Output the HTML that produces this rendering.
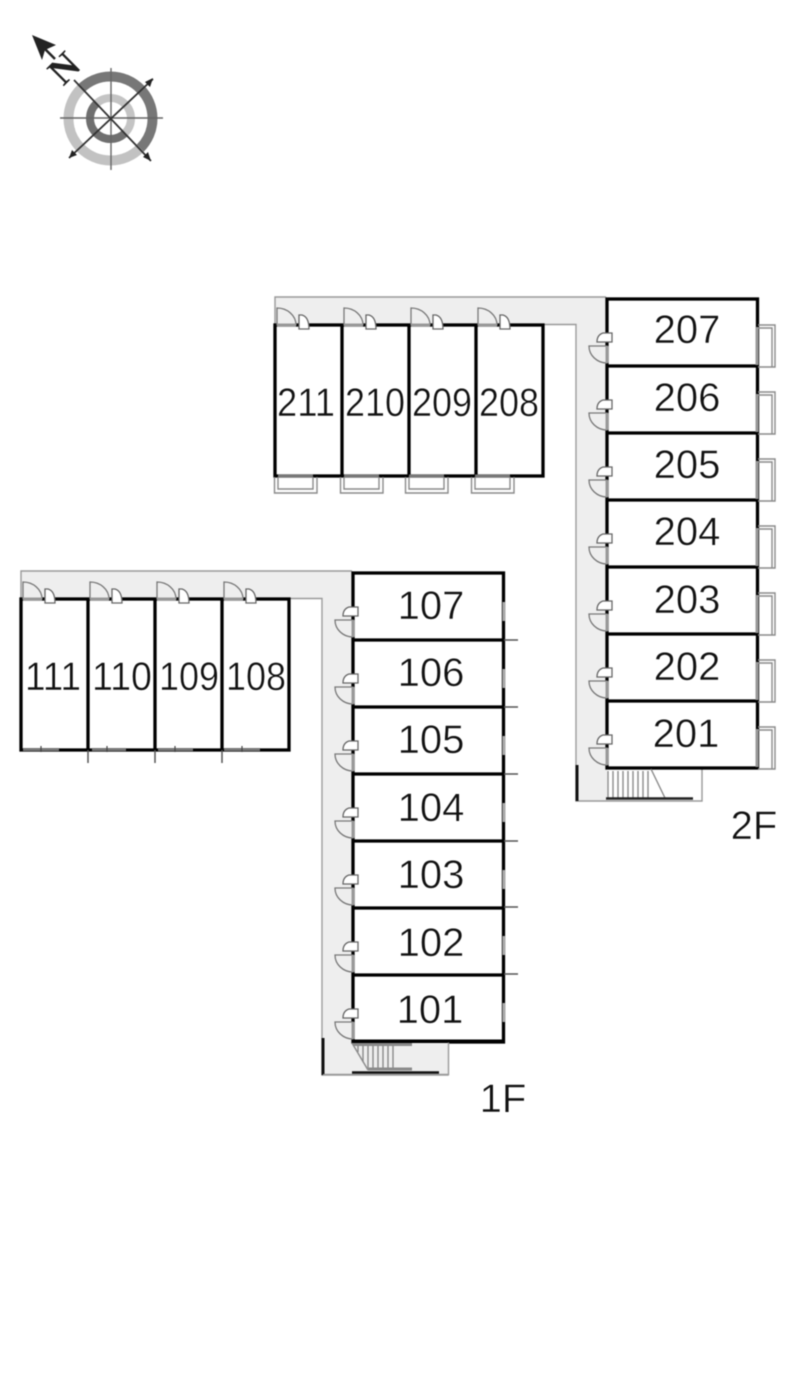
<!DOCTYPE html>
<html>
<head>
<meta charset="utf-8">
<style>
html,body{margin:0;padding:0;background:#fff;width:800px;height:1373px;overflow:hidden}
svg{display:block;filter:blur(.4px)}
text{font-family:"Liberation Sans",sans-serif;font-size:40px;fill:#111;text-anchor:middle;stroke:#fff;stroke-width:.5px}
</style>
</head>
<body>
<svg width="800" height="1373" viewBox="0 0 800 1373" xmlns="http://www.w3.org/2000/svg">
<defs>
  <g id="doorR">
    <path d="M607 47H589A18 17 0 0 0 607 64Z" fill="#eee" stroke="#777" stroke-width="1.3"/>
    <path d="M612 34H603Q597 36 597 43H612Z" fill="#fff" stroke="#666" stroke-width="1.3"/>
    <path d="M607 47V64" stroke="#999" stroke-width="3"/>
  </g>
  <g id="doorT">
    <path d="M277 325V308A19 17 0 0 1 296 325Z" fill="#eee" stroke="#777" stroke-width="1.3"/>
    <path d="M299 329V315H302Q309 317 309 329Z" fill="#fff" stroke="#666" stroke-width="1.3"/>
    <path d="M277 325H296" stroke="#999" stroke-width="3"/>
  </g>
  <g id="floor">
    <path d="M275 297H607V801H577V325H275Z" fill="#eee"/>
    <path d="M275 325V297H606M543 324.500H576V801H702V768" fill="none" stroke="#999" stroke-width="1.4"/>
    <rect x="607" y="299" width="150" height="469" fill="#fff"/>
    <rect x="275" y="325" width="268" height="151" fill="#fff"/>
    <path d="M577 765V801" stroke="#111" stroke-width="3"/>
    <g fill="none" stroke="#000" stroke-width="3.300">
      <rect x="607" y="299" width="150.500" height="469"/>
      <path d="M607 366H757M607 433H757M607 500H757M607 567H757M607 634H757M607 701H757"/>
      <rect x="275" y="325" width="268" height="151"/>
      <path d="M342 325V476M409 325V476M476 325V476"/>
    </g>
    <use href="#doorT"/>
    <use href="#doorT" x="67"/>
    <use href="#doorT" x="134"/>
    <use href="#doorT" x="201"/>
    <use href="#doorR" y="299"/>
    <use href="#doorR" y="366"/>
    <use href="#doorR" y="433"/>
    <use href="#doorR" y="500"/>
    <use href="#doorR" y="567"/>
    <use href="#doorR" y="634"/>
    <use href="#doorR" y="701"/>
  </g>
  <g id="balR" fill="none" stroke="#8a8a8a" stroke-width="1.4">
    <path d="M758 26H775V68H758M758 29H772V68"/>
    <path d="M757 28V66" stroke="#999" stroke-width="3"/>
  </g>
  <g id="balB" fill="none" stroke="#8a8a8a" stroke-width="1.4">
    <path d="M274.500 477V493H317V477M278 477V489H313V477"/>
    <path d="M278 476H313" stroke="#777" stroke-width="3"/>
  </g>
</defs>

<!-- compass -->
<g fill="none">
  <path d="M80.800 88.800A42 42 0 0 1 140.200 148.200" stroke="#777" stroke-width="10"/>
  <path d="M80.800 88.800A42 42 0 0 0 140.200 148.200" stroke="#c2c2c2" stroke-width="10"/>
  <path d="M96 104A20.500 20.500 0 0 0 125 133" stroke="#6f6f6f" stroke-width="8"/>
  <path d="M96 104A20.500 20.500 0 0 1 125 133" stroke="#c4c4c4" stroke-width="8"/>
  <path d="M111 68V170M60 118H163" stroke="#666" stroke-width="1.4"/>
  <path d="M74 80L151 161M153 79L69 158" stroke="#333" stroke-width="1.8"/>
  <path d="M44 48L55 59" stroke="#222" stroke-width="2.500"/>
</g>
<path d="M32 35L56 45L45 50L42 60Z" fill="#222"/>
<path d="M153 78L145 82L150 87ZM69 158L77 155L72 150ZM151 161L143 157L148 152Z" fill="#222"/>
<text x="0" y="0" transform="translate(73 77) rotate(-45)" style="font-family:'Liberation Serif',serif;font-size:38px;font-weight:700;fill:#222;stroke:none">N</text>

<!-- 2F -->
<use href="#floor"/>
<g fill="none" stroke="#8a8a8a" stroke-width="1.4">
  <path d="M608 771V798M613 771V798M618 771V798M623 771V798M628 771V798M633 771V798M638 771V798M643 771V798M648 771V798"/>
  <path d="M651 769L665 798"/>
</g>
<path d="M606 798.500H693" stroke="#222" stroke-width="2.500"/>
<use href="#balR" y="299"/>
<use href="#balR" y="366"/>
<use href="#balR" y="433"/>
<use href="#balR" y="500"/>
<use href="#balR" y="567"/>
<use href="#balR" y="634"/>
<use href="#balR" y="701"/>
<use href="#balB"/>
<use href="#balB" x="66"/>
<use href="#balB" x="131"/>
<use href="#balB" x="197"/>
<text x="687" y="343">207</text>
<text x="687" y="411">206</text>
<text x="687" y="478">205</text>
<text x="687" y="545">204</text>
<text x="687" y="613">203</text>
<text x="687" y="680">202</text>
<text x="686" y="747">201</text>
<text x="306" y="416" textLength="58" lengthAdjust="spacingAndGlyphs">211</text>
<text x="375" y="416" textLength="60" lengthAdjust="spacingAndGlyphs">210</text>
<text x="442" y="416" textLength="60" lengthAdjust="spacingAndGlyphs">209</text>
<text x="509" y="416" textLength="60" lengthAdjust="spacingAndGlyphs">208</text>
<text x="754" y="839">2F</text>

<!-- 1F -->
<use href="#floor" transform="translate(-254 274)"/>
<path d="M353 1043H448V1074H353Z" fill="#eee"/>
<path d="M448.500 1042V1074.500H323" fill="none" stroke="#999" stroke-width="1.4"/>
<path d="M323 1038V1074" stroke="#111" stroke-width="3"/>
<rect x="353" y="1039.500" width="151" height="3" fill="#000"/>
<path d="M353 1044.500H412M368 1069H412" stroke="#8a8a8a" stroke-width="3"/>
<g fill="none" stroke="#8a8a8a" stroke-width="1.4">
  <path d="M358 1046V1052M363 1046V1062M368 1046V1068M373 1046V1068M378 1046V1068M383 1046V1068M388 1046V1068M393 1046V1068"/>
  <path d="M352 1043L368 1070"/>
</g>
<path d="M352 1072.500H439" stroke="#111" stroke-width="2.500"/>
<path d="M504 640H518M504 707H518M504 774H518M504 841H518M504 907H518M504 974H518" stroke="#555" stroke-width="1.400"/>
<path d="M504 602V621M504 669V688M504 736V755M504 803V822M504 870V889M504 936V955M504 1003V1022" stroke="#aaa" stroke-width="3"/>
<path d="M23 749.500H59M92 749.500H126M158 749.500H193M224 749.500H260" stroke="#777" stroke-width="3"/>
<path d="M41 746V752M107 746V752M175 746V752M242 746V752" stroke="#444" stroke-width="1.200"/>
<path d="M88 750V763M155 750V763M222 750V763" stroke="#555" stroke-width="1.500"/>
<text x="431" y="619">107</text>
<text x="431" y="686">106</text>
<text x="431" y="753">105</text>
<text x="431" y="821">104</text>
<text x="431" y="888">103</text>
<text x="431" y="956">102</text>
<text x="430" y="1023">101</text>
<text x="53" y="690" textLength="56" lengthAdjust="spacingAndGlyphs">111</text>
<text x="122" y="690" textLength="60" lengthAdjust="spacingAndGlyphs">110</text>
<text x="189" y="690" textLength="60" lengthAdjust="spacingAndGlyphs">109</text>
<text x="256" y="690" textLength="60" lengthAdjust="spacingAndGlyphs">108</text>
<text x="503" y="1112">1F</text>
</svg>
</body>
</html>
